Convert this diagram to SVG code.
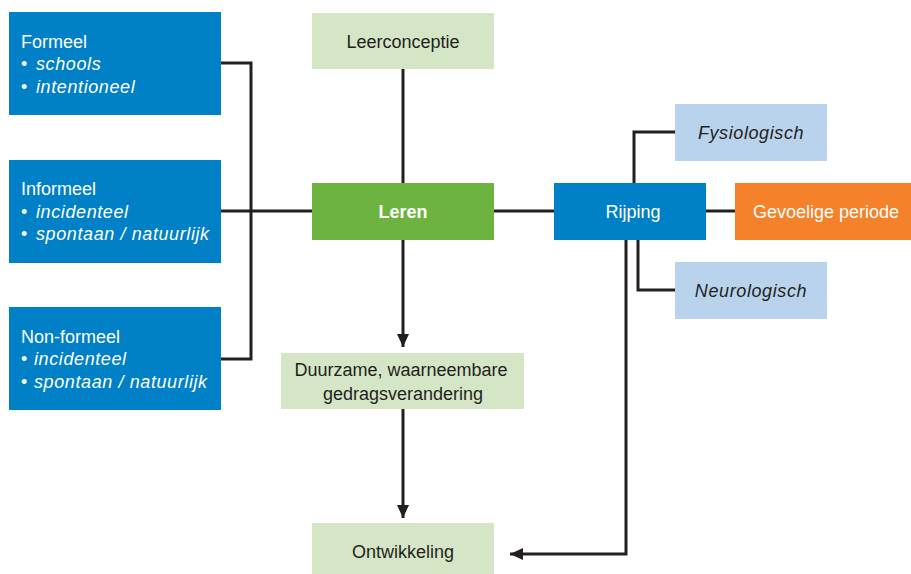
<svg xmlns="http://www.w3.org/2000/svg" width="911" height="574" viewBox="0 0 911 574">
<style>
  text { font-family: "Liberation Sans", Arial, sans-serif; font-size: 18px; }
  .w { fill: #ffffff; }
  .d { fill: #231f20; }
  .it { font-style: italic; letter-spacing: 0.6px; }
  .c { text-anchor: middle; }
  .blue { fill: #0080c6; }
  .lg { fill: #d5e6c7; }
  .lb { fill: #b9d3ec; }
  .green { fill: #6db33f; }
  .orange { fill: #f5822a; }
  .ln { fill: none; stroke: #231f20; stroke-width: 3; }
</style>
<defs>
  <marker id="arr" markerUnits="userSpaceOnUse" markerWidth="14" markerHeight="12" refX="13" refY="6" orient="auto">
    <path d="M0,0 L13,6 L0,12 Z" fill="#231f20"/>
  </marker>
</defs>

<g id="connectors">
  <path class="ln" d="M221,63 H251 V359 H221"/>
  <path class="ln" d="M221,211 H312"/>
  <path class="ln" d="M403,69 V183"/>
  <path class="ln" d="M403,240 V347" marker-end="url(#arr)"/>
  <path class="ln" d="M403,409 V518" marker-end="url(#arr)"/>
  <path class="ln" d="M494,211 H554"/>
  <path class="ln" d="M706,211 H735"/>
  <path class="ln" d="M634,183 V132 H675"/>
  <path class="ln" d="M638,240 V290 H675"/>
  <path class="ln" d="M626,240 V554 H510" marker-end="url(#arr)"/>
</g>

<g id="formeel">
  <rect class="blue" x="9" y="12" width="212" height="103"/>
  <text class="w" x="21" y="48">Formeel</text>
  <text class="w" x="21" y="70">•<tspan class="it" x="36">schools</tspan></text>
  <text class="w" x="21" y="93">•<tspan class="it" x="36">intentioneel</tspan></text>
</g>

<g id="informeel">
  <rect class="blue" x="9" y="160" width="212" height="103"/>
  <text class="w" x="21" y="195">Informeel</text>
  <text class="w" x="21" y="218">•<tspan class="it" x="36">incidenteel</tspan></text>
  <text class="w" x="21" y="240">•<tspan class="it" x="36">spontaan / natuurlijk</tspan></text>
</g>

<g id="nonformeel">
  <rect class="blue" x="9" y="307" width="212" height="103"/>
  <text class="w" x="21" y="343">Non-formeel</text>
  <text class="w" x="21" y="365">•<tspan class="it" x="34">incidenteel</tspan></text>
  <text class="w" x="21" y="388">•<tspan class="it" x="34">spontaan / natuurlijk</tspan></text>
</g>

<g id="leerconceptie">
  <rect class="lg" x="312" y="13" width="182" height="56"/>
  <text class="d c" x="403" y="48">Leerconceptie</text>
</g>

<g id="leren">
  <rect class="green" x="312" y="183" width="182" height="57"/>
  <text class="w c" x="403" y="218" font-weight="bold" font-size="20">Leren</text>
</g>

<g id="duurzame">
  <rect class="lg" x="281" y="353" width="243" height="56"/>
  <text class="d c" x="401" y="376">Duurzame, waarneembare</text>
  <text class="d c" x="403" y="400">gedragsverandering</text>
</g>

<g id="ontwikkeling">
  <rect class="lg" x="312" y="523" width="182" height="51"/>
  <text class="d c" x="403" y="558">Ontwikkeling</text>
</g>

<g id="rijping">
  <rect class="blue" x="554" y="183" width="152" height="57"/>
  <text class="w c" x="633" y="218">Rijping</text>
</g>

<g id="fysiologisch">
  <rect class="lb" x="675" y="104" width="152" height="57"/>
  <text class="d c it" x="751" y="139">Fysiologisch</text>
</g>

<g id="neurologisch">
  <rect class="lb" x="675" y="262" width="152" height="57"/>
  <text class="d c it" x="751" y="297">Neurologisch</text>
</g>

<g id="gevoelige">
  <rect class="orange" x="735" y="183" width="176" height="57"/>
  <text class="w c" x="826" y="218">Gevoelige periode</text>
</g>
</svg>
